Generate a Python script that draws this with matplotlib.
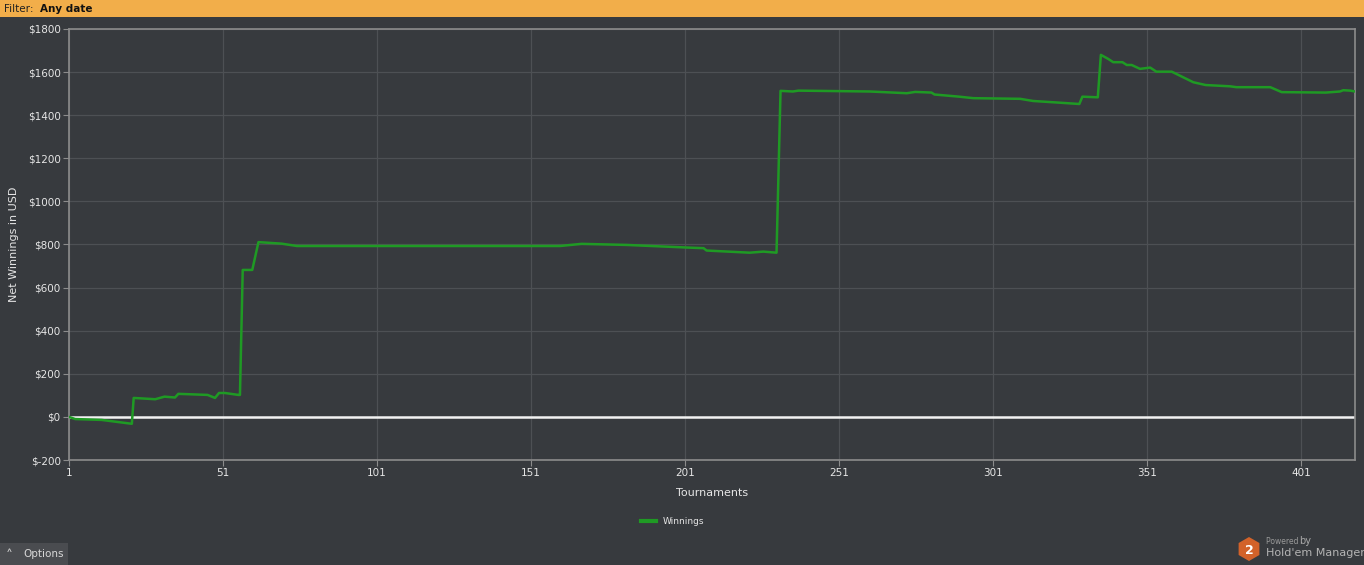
import matplotlib
matplotlib.use("Agg")
import matplotlib.pyplot as plt
from matplotlib.patches import Rectangle, RegularPolygon

# Data: breakpoints of the cumulative winnings line (tournament #, USD)
tournaments = [1, 3, 11.6, 21.4, 22, 29, 32, 35.4, 36.5, 46, 48.4, 49.7, 51.6, 56, 56.5,
               57.4, 60.5, 62.5, 70, 75, 160.4, 167.4, 182, 201.5, 207, 208, 222, 226.4,
               230.7, 232, 236, 237.8, 261, 273, 275.7, 281, 282, 290, 294.6, 309.8, 314,
               322.7, 329, 330, 335, 336, 338.4, 340, 343, 344.4, 346, 348.7, 352, 354,
               359, 366, 370, 378, 380, 391, 394.7, 409, 413.6, 414.7, 417, 418.5]
winnings = [0, -10, -14, -32, 88, 82, 94, 90, 107, 102, 88, 111, 111, 102, 102,
            682, 682, 811, 804, 793, 793, 803, 798, 786, 783, 772, 762, 767,
            762, 1513, 1510, 1514, 1510, 1502, 1508, 1505, 1496, 1486, 1479, 1476, 1466,
            1458, 1452, 1486, 1483, 1680, 1661, 1646, 1646, 1633, 1633, 1615, 1621, 1602,
            1602, 1553, 1540, 1534, 1530, 1530, 1507, 1505, 1510, 1516, 1514, 1510]
x_ticks = [1, 51, 101, 151, 201, 251, 301, 351, 401]
y_ticks = [-200, 0, 200, 400, 600, 800, 1000, 1200, 1400, 1600, 1800]
y_labels = ["$-200", "$0", "$200", "$400", "$600", "$800", "$1000", "$1200", "$1400", "$1600", "$1800"]

BG = "#373a3e"
GRID = "#4d5054"
TXT = "#e6e6e6"
GREEN = "#1f9a24"

W, H = 1364, 565
fig = plt.figure(figsize=(W / 100, H / 100), dpi=100, facecolor=BG)

# top filter bar
fig.patches.append(Rectangle((0, 1 - 17 / H), 1, 17 / H, transform=fig.transFigure,
                             facecolor="#f2ae4a", edgecolor="none", zorder=0))
fig.text(4 / W, 1 - 8.5 / H, "Filter: ", color="#222222", fontsize=7.5, va="center", ha="left")
fig.text(40 / W, 1 - 8.5 / H, "Any date", color="#111111", fontsize=7.5, va="center", ha="left",
         fontweight="bold")

ax = fig.add_axes([69 / W, (H - 460) / H, 1286 / W, 431 / H])
ax.set_facecolor(BG)
ax.plot(tournaments, winnings, color=GREEN, lw=1.8, zorder=3, solid_joinstyle="round")
ax.axhline(0, color="#f2f2f2", lw=1.8, zorder=2)

ax.set_xlim(1, 418.5)
ax.set_ylim(-200, 1800)
ax.set_xticks(x_ticks)
ax.set_xticklabels([str(t) for t in x_ticks])
ax.set_yticks(y_ticks)
ax.set_yticklabels(y_labels)
ax.grid(True, color=GRID, lw=0.9, zorder=1)
for s in ax.spines.values():
    s.set_color("#8c8c8c")
    s.set_linewidth(1.2)
ax.tick_params(axis="both", colors="#8c8c8c", labelcolor=TXT, labelsize=7.5, length=4, width=0.8)
ax.tick_params(axis="x", pad=2)
ax.tick_params(axis="y", pad=2)
ax.set_xlabel("Tournaments", color=TXT, fontsize=8, labelpad=7)
ax.set_ylabel("Net Winnings in USD", color=TXT, fontsize=8, labelpad=6)

# legend
fig.add_artist(plt.Line2D([641 / W, 656 / W], [1 - 521 / H, 1 - 521 / H], color=GREEN, lw=3,
                          transform=fig.transFigure))
fig.text(663 / W, 1 - 522 / H, "Winnings", color=TXT, fontsize=6.5, va="center", ha="left")

# Options button
fig.patches.append(Rectangle((0, 0), 68 / W, 22 / H, transform=fig.transFigure,
                             facecolor="#4a4c50", edgecolor="none"))
fig.text(6 / W, 9 / H, "\u02c4", color="#cfcfcf", fontsize=10, va="center", ha="left")
fig.text(23 / W, 11 / H, "Options", color="#d8d8d8", fontsize=7.5, va="center", ha="left")

# Powered by logo
fig.patches.append(RegularPolygon((12.49, 0.16), numVertices=6, radius=0.12,
                                  orientation=0, transform=fig.dpi_scale_trans,
                                  facecolor="#d2622a", edgecolor="none"))
fig.text(1249 / W, 15 / H, "2", color="white", fontsize=9, fontweight="bold",
         va="center", ha="center")
fig.text(1266 / W, 23 / H, "Powered ", color="#9a9a9a", fontsize=5.5, va="center", ha="left")
fig.text(1299 / W, 24 / H, "by", color="#a8a8a8", fontsize=7, va="center", ha="left")
fig.text(1266 / W, 12 / H, "Hold'em Manager", color="#b4b4b4", fontsize=8, va="center", ha="left")

fig.savefig("out.png", dpi=100, facecolor=BG)
